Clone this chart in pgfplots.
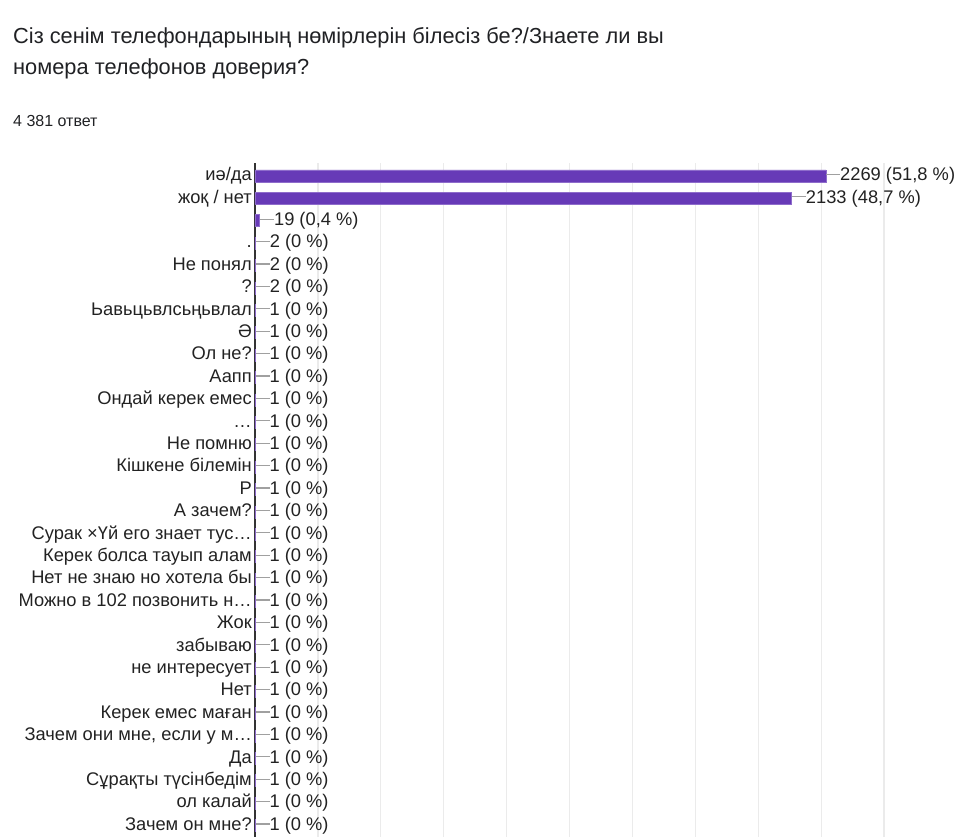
\documentclass[border=0pt]{standalone}
\usepackage{fontspec}
\setmainfont{Liberation Sans}
\usepackage{pgfplots}
\pgfplotsset{compat=1.18}
\usepackage{pgfplotstable}

\definecolor{barpurple}{HTML}{673AB7}
\definecolor{baredge}{HTML}{8E6CCB}
\definecolor{txt}{HTML}{222222}
\definecolor{ttl}{HTML}{202124}
\definecolor{leader}{HTML}{A0A0A0}
\definecolor{gridc}{HTML}{EBEBEB}

% idx = row from the top, val = answers, pct = share in %
\pgfplotstableread{
idx val pct
0  2269 51.8
1  2133 48.7
2  19   0.4
3  2    0
4  2    0
5  2    0
6  1    0
7  1    0
8  1    0
9  1    0
10 1    0
11 1    0
12 1    0
13 1    0
14 1    0
15 1    0
16 1    0
17 1    0
18 1    0
19 1    0
20 1    0
21 1    0
22 1    0
23 1    0
24 1    0
25 1    0
26 1    0
27 1    0
28 1    0
29 1    0
}\answers

\begin{document}
\begin{tikzpicture}
\path[use as bounding box] (0,0) rectangle (974pt,-837pt);

\node[anchor=base west, inner sep=0pt, text=ttl, font=\fontsize{21.8}{26}\selectfont]
  at (13pt,-44pt) {Сіз сенім телефондарының нөмірлерін білесіз бе?/Знаете ли вы};
\node[anchor=base west, inner sep=0pt, text=ttl, font=\fontsize{21.8}{26}\selectfont]
  at (13pt,-75pt) {номера телефонов доверия?};
\node[anchor=base west, inner sep=0pt, text=ttl, font=\fontsize{16}{19}\selectfont]
  at (13pt,-127pt) {4 381 ответ};

\begin{axis}[
  at={(255pt,-163pt)}, anchor=north west,
  scale only axis,
  width=629pt, height=674pt,
  xmin=0, xmax=2500,
  ymin=-0.58, ymax=29.51,
  y dir=reverse,
  clip=false,
  axis x line*=bottom,
  axis y line*=left,
  x axis line style={draw=none},
  y axis line style={draw=black!80, line width=1.2pt, -},
  xtick={0,250,...,2500},
  xticklabels={},
  xmajorgrids,
  grid style={draw=gridc, line width=1.2pt},
  major tick length=0pt,
  ytick={0,...,29},
  yticklabels={иә/да, жоқ / нет, {}, ., Не понял, ?, Ьавьцьвлсьңьвлал, Ә,
    Ол не?, Аапп, Ондай керек емес, …, Не помню, Кішкене білемін, Р,
    А зачем?, Сурак ×Үй его знает тус…, Керек болса тауып алам,
    Нет не знаю но хотела бы, Можно в 102 позвонить н…, Жок, забываю,
    не интересует, Нет, Керек емес маған, {Зачем они мне, если у м…}, Да,
    Сұрақты түсінбедім, ол калай, Зачем он мне?},
  yticklabel style={anchor=east, inner sep=0pt, xshift=-3pt, text=txt,
    text height=13pt, text depth=3.5pt,
    font=\fontsize{18.3}{21}\selectfont},
  /pgf/number format/assume math mode=true,
  /pgf/number format/1000 sep={},
]
\addplot[xbar, bar width=12pt, fill=barpurple, draw=baredge, line width=0.6pt,
  point meta=explicit,
  visualization depends on={x \as \myval},
  nodes near coords={\textcolor{leader}{\rule[5.8pt]{14pt}{1.2pt}}\pgfmathprintnumber[fixed, precision=0, 1000 sep={}, assume math mode=true]{\myval}~(\pgfmathprintnumber[fixed, precision=1, use comma, 1000 sep={}, assume math mode=true]{\pgfplotspointmeta}~\%)},
  every node near coord/.append style={anchor=west, inner sep=0pt, text=txt,
    text height=13pt, text depth=3.5pt,
    font=\fontsize{18.3}{21}\selectfont},
] table[x=val, y=idx, meta=pct] {\answers};
\end{axis}
\end{tikzpicture}
\end{document}
